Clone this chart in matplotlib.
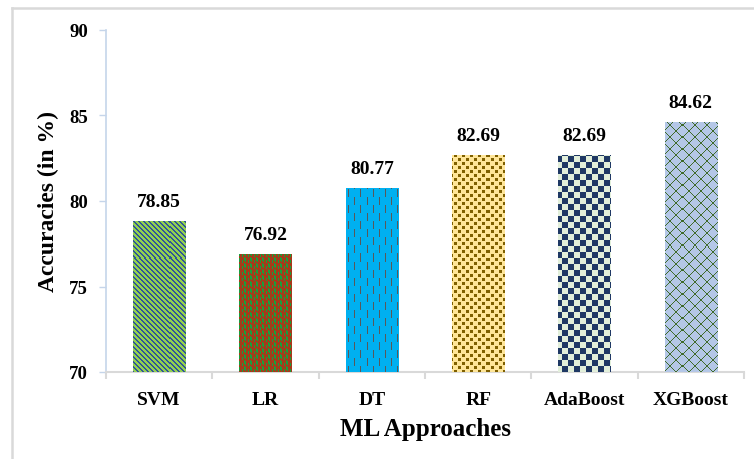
import numpy as np
import matplotlib
matplotlib.use("Agg")
import matplotlib.pyplot as plt
from matplotlib.lines import Line2D
from matplotlib.colors import to_rgb

# Model accuracies
models = ["SVM", "LR", "DT", "RF", "AdaBoost", "XGBoost"]
accuracies = [78.85, 76.92, 80.77, 82.69, 82.69, 84.62]
y_ticks = [70, 75, 80, 85, 90]

# Pattern fills: background colour and pattern colour for each bar
faces = ["#92d050", "#a53b1a", "#00b0f0", "#ffe699", "#e2efda", "#b4c7e7"]
inks = ["#2f5597", "#17a03c", "#595959", "#7f6000", "#1f3864", "#3f6a2a"]

plt.rcParams["font.family"] = ["Liberation Serif", "DejaVu Serif"]
plt.rcParams["font.weight"] = "bold"

W, H = 754, 460
# axes box in whole pixels so pattern pixels land on screen pixels
AX_PX = (106, 87, 638, 342)
AX = [AX_PX[0] / W, AX_PX[1] / H, AX_PX[2] / W, AX_PX[3] / H]


def tile_diag(period=5, width=2):
    t = np.zeros((period, period))
    for r in range(period):
        for c in range(period):
            if (c - r) % period < width:
                t[r, c] = 1
    return t


def tile_vertical_dotted():
    t = np.zeros((6, 6))
    t[0:4, 0] = 1
    t[1:5, 1] = 1
    t[3:6, 4] = 1
    return t


def tile_dashes():
    t = np.zeros((16, 12))
    t[0:8, 2] = 1
    t[8:16, 8] = 1
    return t


def tile_confetti():
    t = np.zeros((8, 8))
    t[0:3, 0:3] = 1
    t[4:7, 4:7] = 1
    return t


def tile_checker(cell=6):
    t = np.zeros((2 * cell, 2 * cell))
    t[:cell, :cell] = 1
    t[cell:, cell:] = 1
    return t


def tile_lattice(p=12):
    t = np.zeros((p, p))
    for r in range(p):
        for c in range(p):
            if r == c or r == p - 1 - c:
                t[r, c] = 1
    return t


tiles = [tile_diag(), tile_vertical_dotted(), tile_dashes(),
         tile_confetti(), tile_checker(), tile_lattice()]

fig = plt.figure(figsize=(W / 100, H / 100), dpi=100)
ax = fig.add_axes(AX)

x = np.arange(len(models))
xlim = (-0.5, len(models) - 0.5)
ylim = (70, 90)
bars = ax.bar(x, accuracies, width=0.49, linewidth=0, zorder=2)
ax.set_xlim(*xlim)
ax.set_ylim(*ylim)

# Pixel-resolution pattern images clipped to each bar
npx_w, npx_h = AX_PX[2], AX_PX[3]
for b, fc, ink, t in zip(bars, faces, inks, tiles):
    b.set_facecolor(fc)
    reps = (npx_h // t.shape[0] + 2, npx_w // t.shape[1] + 2)
    mask = np.tile(t, reps)[:npx_h, :npx_w]
    rgb = np.empty(mask.shape + (3,))
    rgb[:] = to_rgb(fc)
    rgb[mask > 0] = to_rgb(ink)
    im = ax.imshow(rgb, extent=(xlim[0], xlim[1], ylim[0], ylim[1]),
                   origin="upper", interpolation="nearest", aspect="auto", zorder=3)
    im.set_clip_path(b)

ax.set_xlim(*xlim)
ax.set_ylim(*ylim)

# Value labels
for xi, v in zip(x, accuracies):
    ax.annotate(f"{v:.2f}", (xi, v), xytext=(0, 8), textcoords="offset points",
                ha="center", va="bottom", fontsize=14, fontweight="bold")

# Axes styling
for s in ["top", "right"]:
    ax.spines[s].set_visible(False)
ax.spines["left"].set_color("#c5d5ea")
ax.spines["left"].set_linewidth(1.2)
ax.spines["bottom"].set_color("#d9d9d9")
ax.spines["bottom"].set_linewidth(1.5)

ax.set_yticks(y_ticks)
ax.set_yticklabels([str(t) for t in y_ticks], fontsize=13.5, fontweight="bold")
ax.tick_params(axis="y", length=5, color="#c5d5ea", width=1.0, pad=8)

ax.set_xticks(x)
ax.set_xticklabels(models, fontsize=14, fontweight="bold")
ax.set_xticks(np.arange(len(models) + 1) - 0.5, minor=True)
ax.tick_params(axis="x", which="major", length=0, pad=14)
ax.tick_params(axis="x", which="minor", length=5, color="#d9d9d9", width=1.5)

ax.set_ylabel("Accuracies (in %)", fontsize=17, fontweight="bold", labelpad=7)
ax.set_xlabel("ML Approaches", fontsize=18, fontweight="bold", labelpad=6)

# Outer frame lines (top and left)
fig.add_artist(Line2D([11.5 / W, 1.0], [1 - 8.5 / H, 1 - 8.5 / H],
                      transform=fig.transFigure, color="#d9d9d9", linewidth=1.8))
fig.add_artist(Line2D([11.5 / W, 11.5 / W], [0.0, 1 - 8.5 / H],
                      transform=fig.transFigure, color="#d9d9d9", linewidth=1.8))

fig.savefig("out.png", dpi=100)
